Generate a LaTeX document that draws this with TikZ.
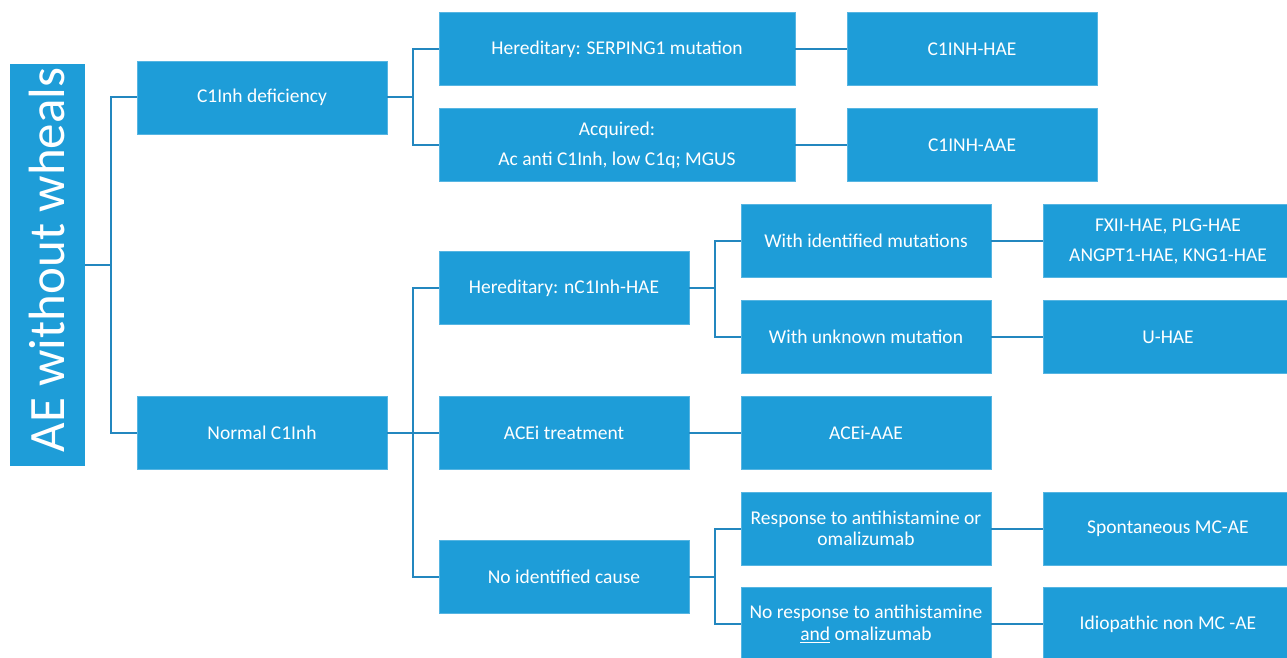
\documentclass[tikz,border=0pt]{standalone}
\usepackage{fontspec}
\setmainfont{Carlito}
\usepackage{xcolor}
\definecolor{boxblue}{HTML}{1E9DD8}
\definecolor{lineblue}{HTML}{2387BF}

\begin{document}
\begin{tikzpicture}[x=1pt,y=-1pt,
    box/.style={fill=boxblue,draw=boxblue!75!white,line width=0.6pt,text=white,
      font=\fontsize{19.5}{21.5}\selectfont,align=center,inner sep=0pt,
      minimum width=250pt,minimum height=73pt},
    wide/.style={box,minimum width=356pt},
    link/.style={draw=lineblue,line width=2pt}]
         \useasboundingbox (0,0) rectangle (1287,658);

         % root
         \node[fill=boxblue,minimum width=75pt,minimum height=401pt,inner sep=0pt,name=root] at (47.5,265) {};
         \node[rotate=90,text=white,font=\fontsize{51}{56}\selectfont,name=title] at (47,260) {AE without wheals};

         % first level
         \node[box,name=def] at (262,97.5) {C1Inh deficiency};
         \node[box,name=normal] at (262,433) {Normal C1Inh};

         % C1Inh deficiency branch
         \node[wide,name=serping] at (617,49) {Hereditary: SERPING1 mutation};
         \node[wide,name=acq] at (617,145) {Acquired:\\[8.5pt]Ac anti C1Inh, low C1q; MGUS};
         \node[box,name=hae] at (972,49) {C1INH-HAE};
         \node[box,name=aae] at (972,145) {C1INH-AAE};

         % normal C1Inh branch
         \node[box,name=nhae] at (564,288) {Hereditary: nC1Inh-HAE};
         \node[box,name=acei] at (564,433) {ACEi treatment};
         \node[box,name=noid] at (564,576.5) {No identified cause};

         \node[box,name=withid] at (866,241) {With identified mutations};
         \node[box,name=unknown] at (866,337) {With unknown mutation};
         \node[box,name=aceiaae] at (866,433) {ACEi-AAE};
         \node[box,name=resp] at (866,528.5) {Response to antihistamine or\\omalizumab};
         \node[box,name=noresp] at (866,624) {No response to antihistamine\\\underline{and} omalizumab};

         \node[box,name=fxii] at (1168,241) {FXII-HAE, PLG-HAE\\[8.5pt]ANGPT1-HAE, KNG1-HAE};
         \node[box,name=uhae] at (1168,337) {U-HAE};
         \node[box,name=mcae] at (1168,528.5) {Spontaneous MC-AE};
         \node[box,name=nonmc] at (1168,624) {Idiopathic non MC -AE};

         % connectors
         \draw[link] (root.east) -- ++(26,0) |- (def.west);
         \draw[link] (root.east) -- ++(26,0) |- (normal.west);
         \draw[link] (def.east) -- ++(26,0) |- (serping.west);
         \draw[link] (def.east) -- ++(26,0) |- (acq.west);
         \draw[link] (normal.east) -- ++(26,0) |- (nhae.west);
         \draw[link] (normal.east) -- ++(26,0) |- (noid.west);
         \draw[link] (normal.east) -- (acei.west);
         \draw[link] (nhae.east) -- ++(26,0) |- (withid.west);
         \draw[link] (nhae.east) -- ++(26,0) |- (unknown.west);
         \draw[link] (noid.east) -- ++(26,0) |- (resp.west);
         \draw[link] (noid.east) -- ++(26,0) |- (noresp.west);

         \path[link]
            (serping) edge (hae)
            (acq)     edge (aae)
            (acei)    edge (aceiaae)
            (withid)  edge (fxii)
            (unknown) edge (uhae)
            (resp)    edge (mcae)
            (noresp)  edge (nonmc);
\end{tikzpicture}
\end{document}
